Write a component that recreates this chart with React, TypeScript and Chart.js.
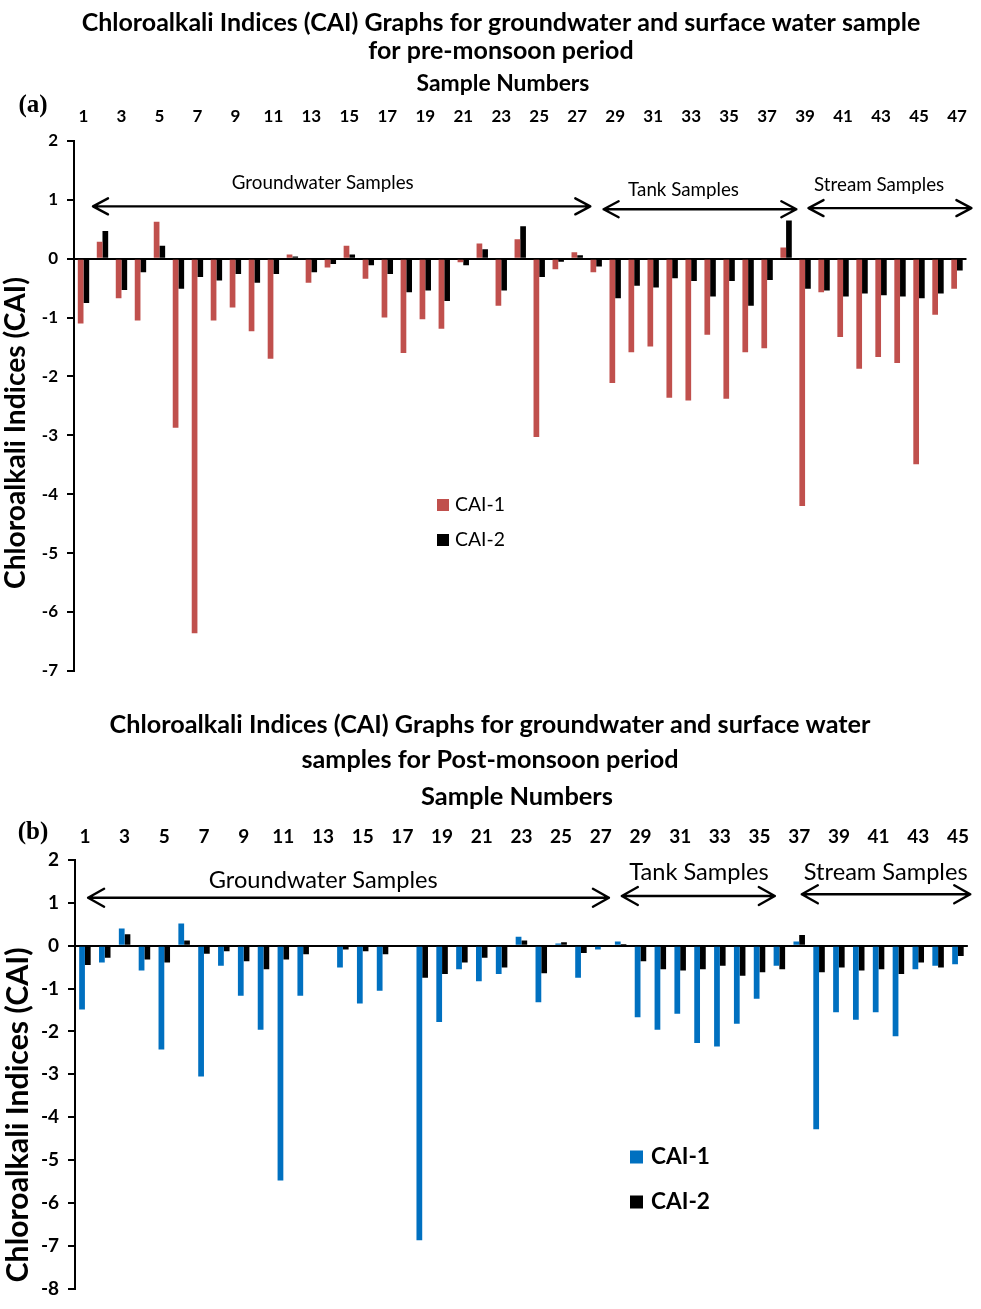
import React, { useEffect, useRef } from "react";
import { Chart, registerables } from "chart.js";

Chart.register(...registerables);

const FONT = "Lato, 'Open Sans', 'DejaVu Sans', sans-serif";
const SERIF = "'Liberation Serif', 'Times New Roman', serif";

// ---------- (a) pre-monsoon ----------
const samplesPre = [
  "1", "2", "3", "4", "5", "6", "7", "8", "9", "10", "11", "12", "13", "14", "15", "16",
  "17", "18", "19", "20", "21", "22", "23", "24", "25", "26", "27", "28", "29", "30", "31",
  "32", "33", "34", "35", "36", "37", "38", "39", "40", "41", "42", "43", "44", "45", "46", "47",
];
const cai1Pre = [
  -1.1, 0.29, -0.67, -1.05, 0.63, -2.87, -6.36, -1.05, -0.83, -1.23, -1.7, 0.07, -0.41, -0.15,
  0.22, -0.34, -1.0, -1.6, -1.03, -1.19, -0.06, 0.26, -0.8, 0.33, -3.03, -0.18, 0.11, -0.23,
  -2.11, -1.59, -1.49, -2.36, -2.41, -1.29, -2.38, -1.59, -1.52, 0.19, -4.2, -0.57, -1.33,
  -1.87, -1.67, -1.77, -3.49, -0.95, -0.51,
];
const cai2Pre = [
  -0.75, 0.47, -0.53, -0.23, 0.22, -0.51, -0.31, -0.37, -0.26, -0.41, -0.26, 0.04, -0.23, -0.09,
  0.07, -0.11, -0.26, -0.57, -0.54, -0.72, -0.11, 0.16, -0.54, 0.55, -0.31, -0.05, 0.06, -0.13,
  -0.67, -0.46, -0.49, -0.33, -0.38, -0.64, -0.38, -0.8, -0.36, 0.65, -0.51, -0.54, -0.64,
  -0.59, -0.62, -0.64, -0.67, -0.59, -0.2,
];
const yMinPre = -7;
const yMaxPre = 2;
const titlePre = [
  "Chloroalkali Indices (CAI) Graphs for groundwater and surface water sample",
  "for pre-monsoon period",
];
const groupsPre = [
  { text: "Groundwater Samples", from: 0.5, to: 26.69, at: 0.89, textAt: 12.6, textY: 1.28 },
  { text: "Tank Samples", from: 27.39, to: 37.54, at: 0.84, textAt: 31.6, textY: 1.17 },
  { text: "Stream Samples", from: 38.18, to: 46.76, at: 0.86, textAt: 41.9, textY: 1.26 },
];

// ---------- (b) post-monsoon ----------
const samplesPost = [
  "1", "2", "3", "4", "5", "6", "7", "8", "9", "10", "11", "12", "13", "14", "15", "16",
  "17", "18", "19", "20", "21", "22", "23", "24", "25", "26", "27", "28", "29", "30", "31",
  "32", "33", "34", "35", "36", "37", "38", "39", "40", "41", "42", "43", "44", "45",
];
const cai1Post = [
  -1.49, -0.39, 0.4, -0.58, -2.42, 0.52, -3.05, -0.47, -1.17, -1.96, -5.48, -1.17, 0, -0.51,
  -1.35, -1.05, 0, -6.87, -1.78, -0.55, -0.83, -0.66, 0.21, -1.32, 0.05, -0.75, -0.09, 0.1,
  -1.67, -1.96, -1.59, -2.27, -2.35, -1.82, -1.24, -0.47, 0.1, -4.28, -1.55, -1.73, -1.55,
  -2.11, -0.55, -0.47, -0.43,
];
const cai2Post = [
  -0.45, -0.28, 0.27, -0.32, -0.39, 0.12, -0.19, -0.13, -0.36, -0.55, -0.32, -0.2, 0, -0.09,
  -0.13, -0.2, 0, -0.75, -0.66, -0.39, -0.28, -0.51, 0.12, -0.64, 0.08, -0.17, 0, 0.04,
  -0.36, -0.55, -0.58, -0.55, -0.47, -0.7, -0.62, -0.55, 0.25, -0.62, -0.51, -0.58, -0.55,
  -0.66, -0.39, -0.51, -0.24,
];
const yMinPost = -8;
const yMaxPost = 2;
const titlePost = [
  "Chloroalkali Indices (CAI) Graphs for groundwater and surface water",
  "samples for Post-monsoon period",
];
const groupsPost = [
  { text: "Groundwater Samples", from: 0.16, to: 26.41, at: 1.12, textAt: 12.01, textY: 1.52 },
  { text: "Tank Samples", from: 27.06, to: 34.77, at: 1.16, textAt: 30.95, textY: 1.7 },
  { text: "Stream Samples", from: 36.13, to: 44.62, at: 1.2, textAt: 40.36, textY: 1.7 },
];

const RED = "#C0504D";
const BLUE = "#0070C0";
const BLACK = "#000000";

function fitSize(ctx: CanvasRenderingContext2D, text: string, weight: string, family: string, width: number) {
  ctx.font = `${weight} 100px ${family}`;
  return (100 * width) / ctx.measureText(text).width;
}

const decorPlugin = {
  id: "decor",
  afterDraw(chart: any, _args: any, o: any) {
    const ctx: CanvasRenderingContext2D = chart.ctx;
    const xs = chart.scales.x;
    const ys = chart.scales.y;
    ctx.save();
    ctx.fillStyle = "#000";
    ctx.strokeStyle = "#000";
    ctx.textAlign = "center";
    ctx.textBaseline = "middle";

    // main title
    const ts = fitSize(ctx, o.title[0], "bold", FONT, o.titleWidth);
    ctx.font = `bold ${ts}px ${FONT}`;
    o.title.forEach((t: string, i: number) => ctx.fillText(t, o.titleX, o.titleY[i]));

    // x axis title
    const xts = fitSize(ctx, o.xTitle, "bold", FONT, o.xTitleWidth);
    ctx.font = `bold ${xts}px ${FONT}`;
    ctx.fillText(o.xTitle, o.xTitleX, o.xTitleY);

    // panel label
    ctx.font = `bold ${o.panelSize}px ${SERIF}`;
    ctx.fillText(o.panel, o.panelX, o.panelY);

    // y axis title
    const yts = fitSize(ctx, o.yTitle, "bold", FONT, o.yTitleWidth);
    ctx.save();
    ctx.translate(o.yTitleX, o.yTitleY);
    ctx.rotate(-Math.PI / 2);
    ctx.font = `bold ${yts}px ${FONT}`;
    ctx.fillText(o.yTitle, 0, 0);
    ctx.restore();

    // group arrows
    const gs = fitSize(ctx, o.groups[0].text, o.groupWeight, FONT, o.groupWidth);
    ctx.font = `${o.groupWeight} ${gs}px ${FONT}`;
    ctx.lineWidth = 2.4;
    ctx.lineCap = "round";
    ctx.lineJoin = "round";
    const hl = o.headLen;
    const hh = o.headHalf;
    o.groups.forEach((g: any) => {
      const x1 = xs.getPixelForValue(g.from);
      const x2 = xs.getPixelForValue(g.to);
      const y = ys.getPixelForValue(g.at);
      ctx.beginPath();
      ctx.moveTo(x1, y);
      ctx.lineTo(x2, y);
      ctx.moveTo(x1 + hl, y - hh);
      ctx.lineTo(x1, y);
      ctx.lineTo(x1 + hl, y + hh);
      ctx.moveTo(x2 - hl, y - hh);
      ctx.lineTo(x2, y);
      ctx.lineTo(x2 - hl, y + hh);
      ctx.stroke();
      ctx.fillText(g.text, xs.getPixelForValue(g.textAt), ys.getPixelForValue(g.textY));
    });

    // legend
    const L = o.legend;
    const ls = fitSize(ctx, chart.data.datasets[0].label, L.weight, FONT, L.textWidth);
    ctx.font = `${L.weight} ${ls}px ${FONT}`;
    ctx.textAlign = "left";
    chart.data.datasets.forEach((d: any, i: number) => {
      const cy = L.y + i * L.gap;
      ctx.fillStyle = d.backgroundColor;
      ctx.fillRect(L.x, cy - L.box / 2, L.box, L.box);
      ctx.fillStyle = "#000";
      ctx.fillText(d.label, L.textX, cy);
    });
    ctx.restore();
  },
};

function makeConfig(p: any): any {
  return {
    type: "bar",
    data: {
      labels: p.labels,
      datasets: [
        {
          label: "CAI-1",
          data: p.d1,
          backgroundColor: p.c1,
          categoryPercentage: p.catPct,
          barPercentage: 1,
          borderWidth: 0,
        },
        {
          label: "CAI-2",
          data: p.d2,
          backgroundColor: BLACK,
          categoryPercentage: p.catPct,
          barPercentage: 1,
          borderWidth: 0,
        },
      ],
    },
    plugins: [decorPlugin],
    options: {
      responsive: false,
      animation: false,
      devicePixelRatio: 1,
      layout: { padding: p.padding },
      plugins: {
        legend: { display: false },
        tooltip: { enabled: false },
        title: { display: false },
        decor: p.decor,
      },
      scales: {
        x: {
          position: "top",
          offset: true,
          grid: { display: false, drawTicks: false },
          border: { display: false },
          ticks: {
            autoSkip: false,
            maxRotation: 0,
            minRotation: 0,
            padding: p.xTickPad,
            color: "#000",
            font: { family: FONT, weight: "bold", size: p.xTickSize },
            callback: (_v: any, i: number) => (i % 2 === 0 ? p.labels[i] : ""),
          },
          afterFit: (s: any) => {
            s.height = p.xHeight;
          },
        },
        y: {
          min: p.yMin,
          max: p.yMax,
          border: { display: true, color: "#000", width: 2 },
          grid: {
            color: (c: any) => (c.tick && c.tick.value === 0 ? "#000" : "rgba(0,0,0,0)"),
            tickColor: "#000",
            lineWidth: 2,
            tickWidth: 2,
            tickLength: 7,
            drawTicks: true,
          },
          ticks: {
            stepSize: 1,
            padding: 9,
            color: "#000",
            font: { family: FONT, weight: "bold", size: p.yTickSize },
          },
          afterFit: (s: any) => {
            s.width = p.yWidth;
          },
        },
      },
    },
  };
}

const configPre = () =>
  makeConfig({
    labels: samplesPre,
    d1: cai1Pre,
    d2: cai2Pre,
    c1: RED,
    yMin: yMinPre,
    yMax: yMaxPre,
    catPct: 0.6,
    padding: { left: 0, right: 14, top: 0, bottom: 18 },
    xHeight: 141,
    yWidth: 74,
    xTickSize: 17,
    xTickPad: 14,
    yTickSize: 17,
    decor: {
      title: titlePre,
      titleX: 501,
      titleY: [23, 51],
      titleWidth: 839,
      xTitle: "Sample Numbers",
      xTitleX: 503,
      xTitleY: 84,
      xTitleWidth: 173,
      panel: "(a)",
      panelSize: 25,
      panelX: 33,
      panelY: 106,
      yTitle: "Chloroalkali Indices (CAI)",
      yTitleX: 16,
      yTitleY: 433,
      yTitleWidth: 312,
      groups: groupsPre,
      groupWeight: "normal",
      groupWidth: 182,
      headLen: 15,
      headHalf: 8,
      legend: { x: 437, y: 505, gap: 35, box: 12, textX: 455, weight: "normal", textWidth: 50 },
    },
  });

const configPost = () =>
  makeConfig({
    labels: samplesPost,
    d1: cai1Post,
    d2: cai2Post,
    c1: BLUE,
    yMin: yMinPost,
    yMax: yMaxPost,
    catPct: 0.58,
    padding: { left: 0, right: 3, top: 0, bottom: 9 },
    xHeight: 170,
    yWidth: 75,
    xTickSize: 19,
    xTickPad: 12,
    yTickSize: 19,
    decor: {
      title: titlePost,
      titleX: 490,
      titleY: [35, 70],
      titleWidth: 761,
      xTitle: "Sample Numbers",
      xTitleX: 517,
      xTitleY: 107,
      xTitleWidth: 192,
      panel: "(b)",
      panelSize: 25,
      panelX: 33,
      panelY: 143,
      yTitle: "Chloroalkali Indices (CAI)",
      yTitleX: 18,
      yTitleY: 425,
      yTitleWidth: 335,
      groups: groupsPost,
      groupWeight: "normal",
      groupWidth: 229,
      headLen: 16,
      headHalf: 9,
      legend: { x: 630, y: 467, gap: 45, box: 13, textX: 651, weight: "bold", textWidth: 59 },
    },
  });

function Panel({ make, height }: { make: () => any; height: number }) {
  const ref = useRef<HTMLCanvasElement>(null);
  useEffect(() => {
    const chart = new Chart(ref.current as HTMLCanvasElement, make());
    return () => chart.destroy();
  }, []);
  return (
    <canvas
      ref={ref}
      width={981}
      height={height}
      style={{ display: "block", width: 981, height }}
    />
  );
}

export default function App() {
  return (
    <div
      style={{
        position: "absolute",
        left: 0,
        top: 0,
        width: 981,
        height: 1309,
        background: "#ffffff",
        overflow: "hidden",
      }}
    >
      <Panel make={configPre} height={690} />
      <Panel make={configPost} height={619} />
    </div>
  );
}
